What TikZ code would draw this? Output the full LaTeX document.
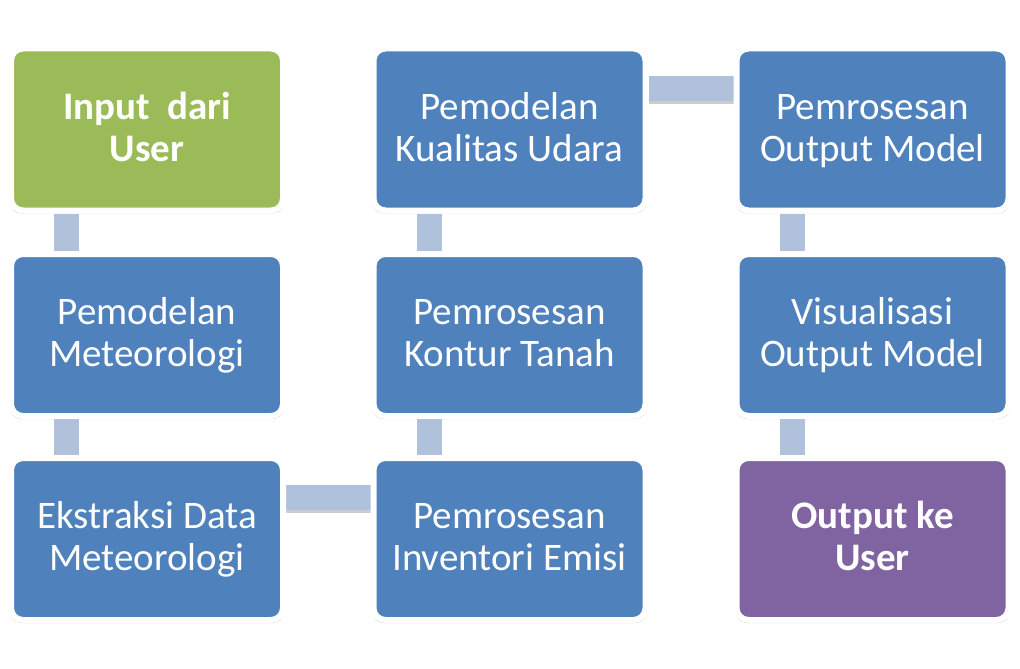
\documentclass[tikz,border=0pt]{standalone}
\usepackage{fontspec}
\setmainfont{Carlito}
\usetikzlibrary{shadows,backgrounds}
\definecolor{boxblue}{HTML}{4F81BD}
\definecolor{boxgreen}{HTML}{9BBB59}
\definecolor{boxpurple}{HTML}{8064A2}
\definecolor{barblue}{HTML}{B0C1DC}
\newcommand{\linestrut}{\rule[-10.5pt]{0pt}{42pt}}
\tikzset{
  stage/.style={rectangle, rounded corners=12, draw=white, line width=6,
    fill=boxblue, minimum width=272, minimum height=162, text=white,
    align=center, font=\fontsize{39}{42}\selectfont,
    general shadow={shadow scale=1.012, shadow yshift=-2pt, fill=black, opacity=0.22}},
  boldstage/.style={stage, font=\fontsize{39}{42}\selectfont\bfseries},
  link/.style={line width=25, barblue},
  linkshadow/.style={line width=25, black, opacity=0.2}
}

\begin{document}
\begin{tikzpicture}[x=1pt, y=-1pt]
\useasboundingbox (0,0) rectangle (1020,669);
% Left column
    \node[boldstage, fill=boxgreen] (input) at (147,129.5) {\linestrut Input\ \ dari\\\linestrut User};
    \node[stage] (meteo) at (147,335) {\linestrut Pemodelan\\\linestrut Meteorologi};
    \node[stage] (ekstraksi) at (147,539) {\linestrut Ekstraksi Data\\\linestrut Meteorologi};
% Middle column
    \node[stage] (emisi) at (509.5,539) {\linestrut Pemrosesan\\\linestrut Inventori Emisi};
    \node[stage] (kontur) at (509.5,335) {\linestrut Pemrosesan\\\linestrut Kontur Tanah};
    \node[stage] (udara) at (509.5,129.5) {\linestrut Pemodelan\\\linestrut Kualitas Udara};
% Right column
    \node[stage] (proses) at (872.5,129.5) {\linestrut Pemrosesan\\\linestrut Output Model};
    \node[stage] (visual) at (872.5,335) {\linestrut Visualisasi\\\linestrut Output Model};
    \node[boldstage, fill=boxpurple] (output) at (872.5,539) {\linestrut Output ke\\\linestrut User};
% Links behind the boxes
\begin{scope}[on background layer]
    \fill[white] (0,0) rectangle (1020,669);
    \draw[link] ([xshift=58]input.south west) -- ([xshift=58]meteo.north west);
    \draw[link] ([xshift=58]meteo.south west) -- ([xshift=58]ekstraksi.north west);
    \draw[linkshadow] ([yshift=-45]ekstraksi.north east) -- ([yshift=-45]emisi.north west);
    \draw[link] ([yshift=-42]ekstraksi.north east) -- ([yshift=-42]emisi.north west);
    \draw[link] ([xshift=59]emisi.north west) -- ([xshift=59]kontur.south west);
    \draw[link] ([xshift=59]kontur.north west) -- ([xshift=59]udara.south west);
    \draw[linkshadow] ([yshift=-46]udara.north east) -- ([yshift=-46]proses.north west);
    \draw[link] ([yshift=-43]udara.north east) -- ([yshift=-43]proses.north west);
    \draw[link] ([xshift=59]proses.south west) -- ([xshift=59]visual.north west);
    \draw[link] ([xshift=59]visual.south west) -- ([xshift=59]output.north west);
\end{scope}
\end{tikzpicture}
\end{document}
